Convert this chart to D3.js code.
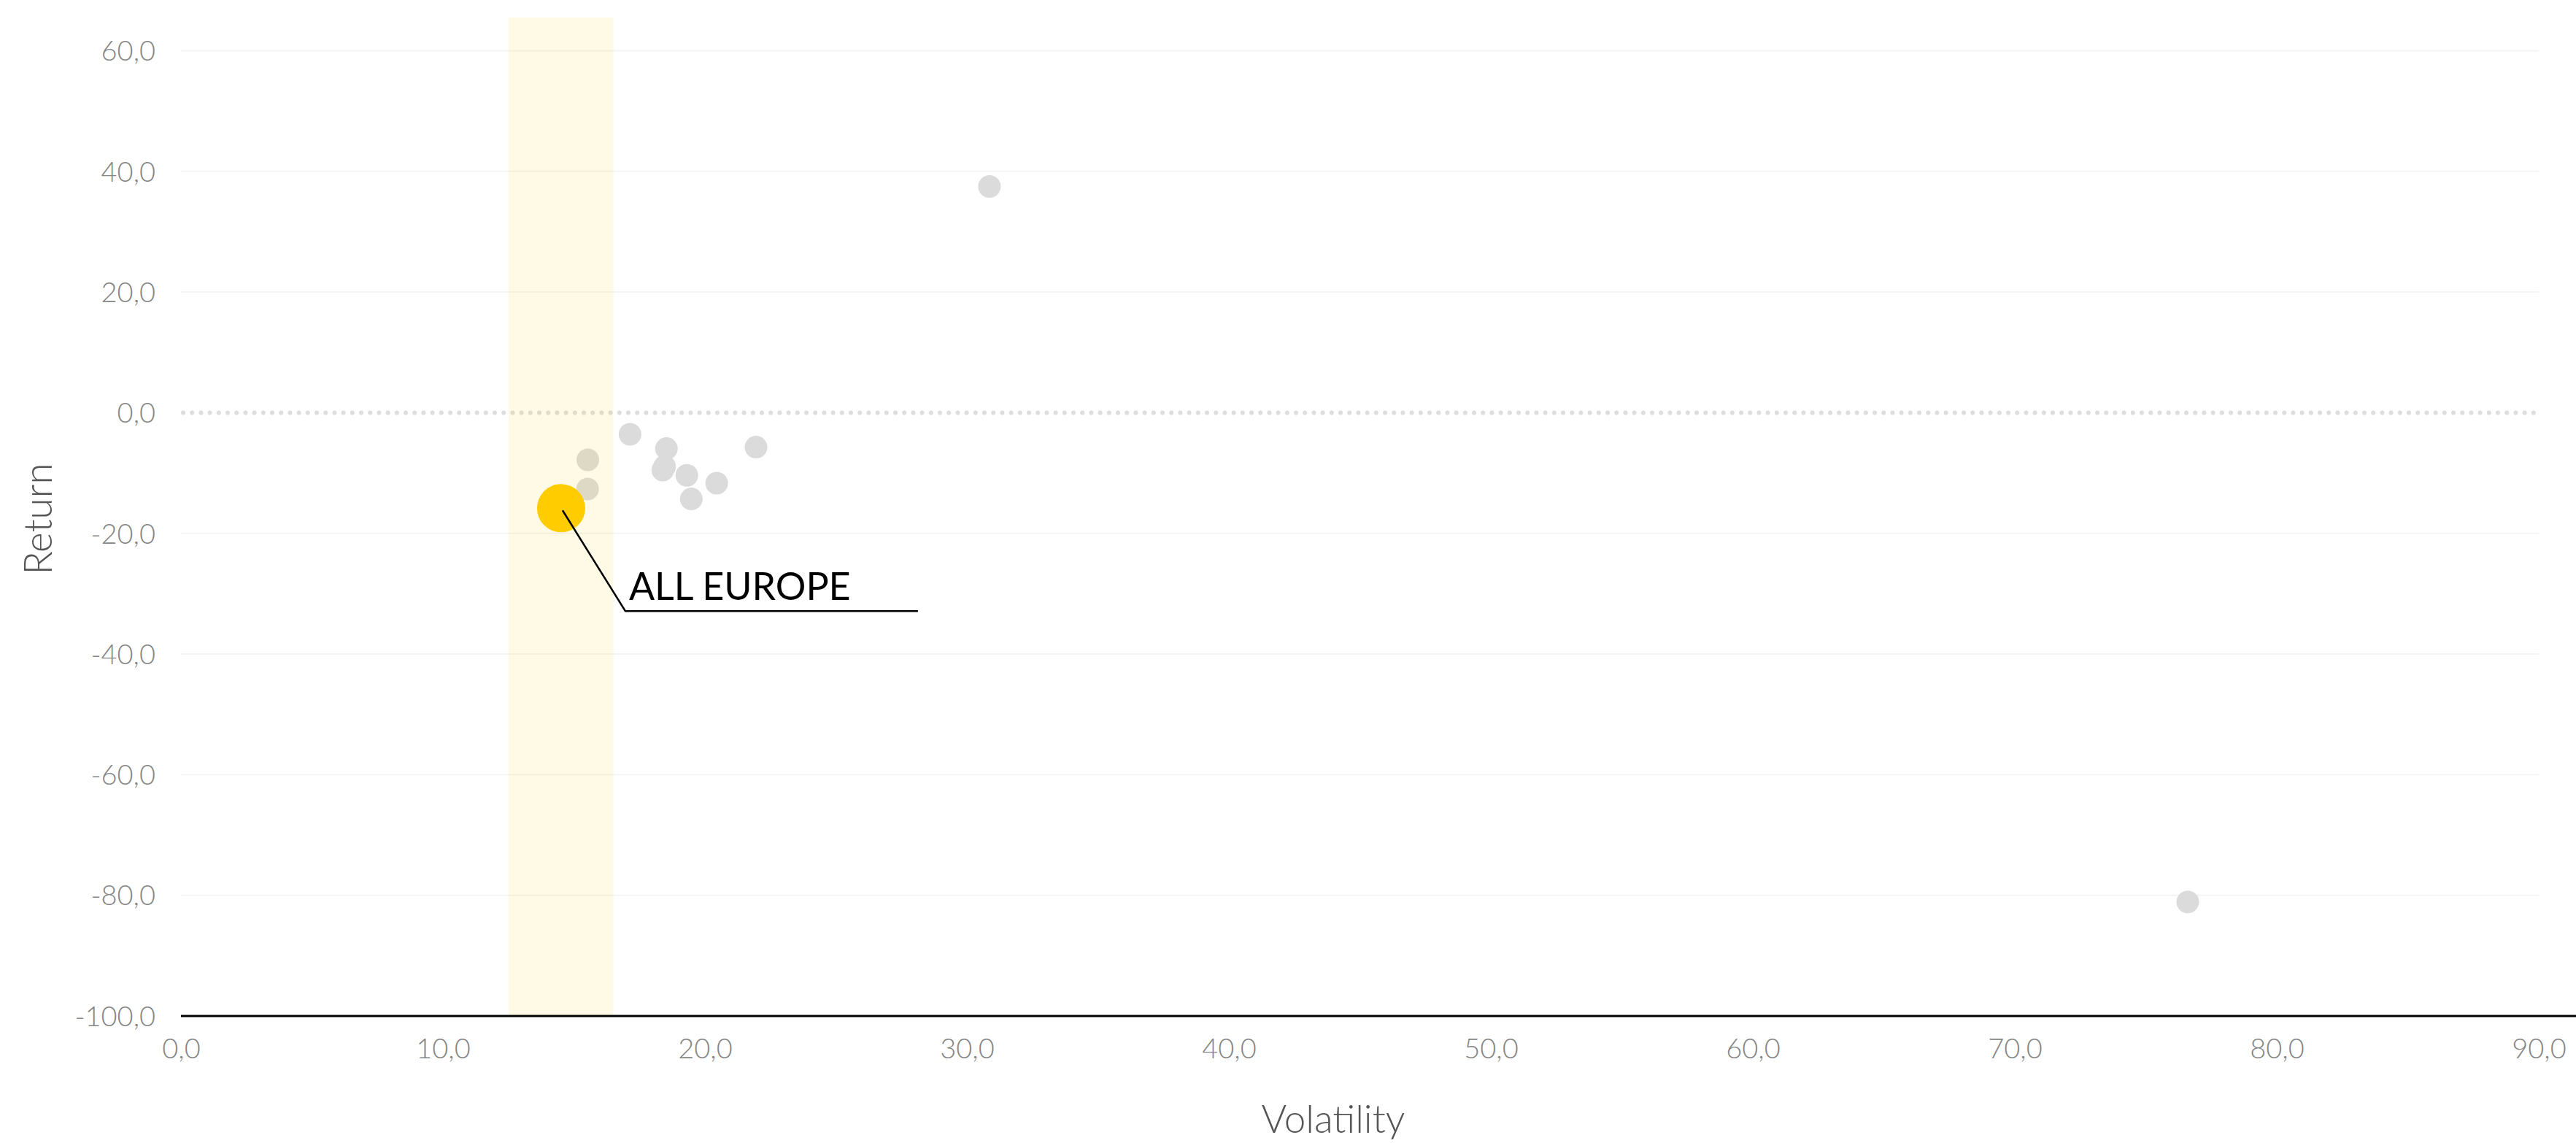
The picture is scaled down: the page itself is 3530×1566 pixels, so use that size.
<!DOCTYPE html>
<html>
<head>
<meta charset="utf-8">
<script src="https://cdn.jsdelivr.net/npm/d3@7/dist/d3.min.js"></script>
<style>
  html, body { margin: 0; padding: 0; background: #fff; }
  svg { display: block; font-family: Lato, "Open Sans", sans-serif; }
</style>
</head>
<body>
<svg id="chart" width="3530" height="1566"></svg>
<script>
// ---- data ----
const volatility = [17.14, 15.53, 15.52, 18.53, 18.46, 18.39, 19.31, 20.45, 19.48, 21.95, 30.86, 76.6];
const returns    = [-3.58, -7.81, -12.65, -5.95, -8.94, -9.5, -10.39, -11.68, -14.30, -5.71, 37.5, -81.1];
const highlightName = ["ALL EUROPE"];
const highlightVolatility = [14.51];
const highlightReturn = [-15.83];
const bandRange = [12.5, 16.5];
const xTicks = [0, 10, 20, 30, 40, 50, 60, 70, 80, 90];
const yTicks = [-100, -80, -60, -40, -20, 0, 20, 40, 60];
const xTitle = "Volatility";
const yTitle = "Return";

// ---- layout ----
const W = 3530, H = 1566;
const mLeft = 248, mRight = 3479, mTop = 24, mBottom = 1392;
const svg = d3.select("#chart");
const x = d3.scaleLinear().domain([0, 90]).range([mLeft, mRight]);
const y = d3.scaleLinear().domain([-100, 65.5]).range([mBottom, mTop]);
const fmt = v => d3.format(".1f")(v).replace(".", ",").replace("\u2212", "-");

// gridlines
svg.append("g").selectAll("line")
  .data(yTicks.filter(t => t !== 0 && t !== -100))
  .join("line")
  .attr("x1", mLeft).attr("x2", mRight)
  .attr("y1", d => y(d)).attr("y2", d => y(d))
  .attr("stroke", "#f4f4f4").attr("stroke-width", 2);

// zero dotted line
svg.append("line")
  .attr("x1", x(0) + 3).attr("x2", mRight)
  .attr("y1", y(0)).attr("y2", y(0))
  .attr("stroke", "#dddddd").attr("stroke-width", 6)
  .attr("stroke-linecap", "round")
  .attr("stroke-dasharray", "0 12.2");

// gray dots
const pts = volatility.map((v, i) => ({ v, r: returns[i] }));
svg.append("g").selectAll("circle")
  .data(pts).join("circle")
  .attr("cx", d => x(d.v)).attr("cy", d => y(d.r))
  .attr("r", 15.5).attr("fill", "#dbdbdb");

// highlight band (translucent, drawn over dots)
svg.append("rect")
  .attr("x", x(bandRange[0])).attr("width", x(bandRange[1]) - x(bandRange[0]))
  .attr("y", mTop).attr("height", mBottom - mTop)
  .attr("fill", "#ffcc00").attr("fill-opacity", 0.1);

// x axis
const xAxis = d3.axisBottom(x).tickValues(xTicks).tickFormat(fmt).tickSize(0).tickPadding(0);
const gx = svg.append("g").attr("transform", `translate(0,${mBottom})`).call(xAxis);
gx.select(".domain").remove();
gx.selectAll("text")
  .attr("y", 58).attr("dy", null)
  .attr("font-size", 38).attr("font-weight", 300)
  .attr("fill", "#858585").attr("font-family", "Lato, 'Open Sans', sans-serif");
svg.append("line")
  .attr("x1", mLeft).attr("x2", W)
  .attr("y1", mBottom).attr("y2", mBottom)
  .attr("stroke", "#000").attr("stroke-width", 3);

// y axis
const yAxis = d3.axisLeft(y).tickValues(yTicks).tickFormat(fmt).tickSize(0).tickPadding(0);
const gy = svg.append("g").attr("transform", `translate(${mLeft},0)`).call(yAxis);
gy.select(".domain").remove();
gy.selectAll("text")
  .attr("x", -35).attr("dy", "0.35em")
  .attr("font-size", 38).attr("font-weight", 300)
  .attr("fill", "#858585").attr("font-family", "Lato, 'Open Sans', sans-serif");

// axis titles
svg.append("text")
  .attr("x", 1827).attr("y", 1552)
  .attr("text-anchor", "middle")
  .attr("font-size", 53).attr("font-weight", 300).attr("fill", "#555")
  .text(xTitle);
svg.append("text")
  .attr("transform", `translate(71,711) rotate(-90)`)
  .attr("text-anchor", "middle")
  .attr("font-size", 53).attr("font-weight", 300).attr("fill", "#555")
  .text(yTitle);

// highlighted point + annotation
const hx = x(highlightVolatility[0]), hy = y(highlightReturn[0]);
svg.append("circle")
  .attr("cx", hx).attr("cy", hy).attr("r", 33).attr("fill", "#ffcc00");
const elbow = [hx + 88, hy + 141];
svg.append("path")
  .attr("d", d3.line()([[hx + 2, hy + 3], elbow, [elbow[0] + 401, elbow[1]]]))
  .attr("fill", "none").attr("stroke", "#000").attr("stroke-width", 2.5);
svg.append("text")
  .attr("x", elbow[0] + 5).attr("y", elbow[1] - 15)
  .attr("font-size", 52).attr("font-weight", 400).attr("fill", "#000")
  .text(highlightName[0]);
</script>
</body>
</html>
